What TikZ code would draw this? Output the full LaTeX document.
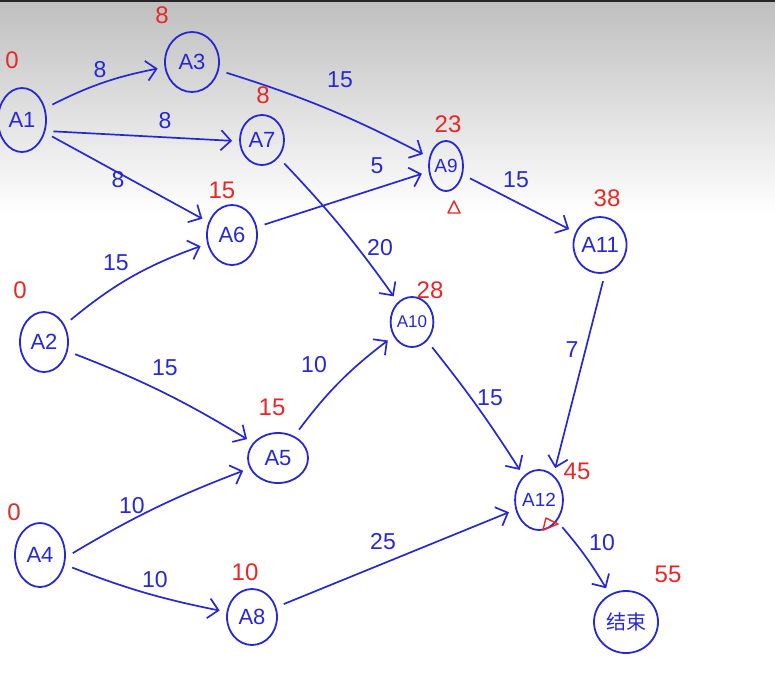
\documentclass[tikz,border=0pt]{standalone}
\usepackage{fontspec}
\setmainfont{Liberation Sans}
\newfontfamily\cjk{Noto Sans CJK SC}
\usetikzlibrary{shapes.geometric,arrows.meta}
\definecolor{myblue}{RGB}{40,40,210}
\definecolor{myred}{RGB}{230,40,40}
\begin{document}
\begin{tikzpicture}[x=1pt,y=-1pt,
  nd/.style={ellipse, draw=myblue, line width=1.8pt, inner sep=0pt, text=myblue, font=\fontsize{22}{22}\selectfont},
  edge/.style={draw=myblue, line width=1.7pt, -{Straight Barb[length=10pt,width=20pt,line width=1.7pt]}, shorten >=7pt, shorten <=8pt},
  lbl/.style={text=myblue, font=\fontsize{23}{23}\selectfont},
  rl/.style={text=myred, font=\fontsize{24}{24}\selectfont}]
\useasboundingbox (0,0) rectangle (775,689);
\fill[white] (0,0) rectangle (775,689);
\shade[top color=black!25, bottom color=white] (0,2) rectangle (775,215);
\fill[black!85] (0,0) rectangle (775,2);

% nodes
\node[nd, minimum width=48pt, minimum height=64pt] (A1) at (22,120) {A1};
\node[nd, minimum width=54pt, minimum height=60pt] (A3) at (192,62) {A3};
\node[nd, minimum width=44pt, minimum height=50pt] (A7) at (262,140) {A7};
\node[nd, minimum width=50pt, minimum height=60pt] (A6) at (232,235) {A6};
\node[nd, minimum width=34pt, minimum height=50pt, font=\fontsize{19}{19}\selectfont] (A9) at (446,166) {A9};
\node[nd, minimum width=50pt, minimum height=56pt] (A11) at (600,245) {A11};
\node[nd, minimum width=48pt, minimum height=60pt] (A2) at (44,342) {A2};
\node[nd, minimum width=40pt, minimum height=50pt, font=\fontsize{17}{17}\selectfont] (A10) at (412,322) {A10};
\node[nd, minimum width=60pt, minimum height=50pt] (A5) at (278,458) {A5};
\node[nd, minimum width=50pt, minimum height=64pt] (A4) at (40,555) {A4};
\node[nd, minimum width=50pt, minimum height=56pt] (A8) at (252,617) {A8};
\node[nd, minimum width=46pt, minimum height=60pt, font=\fontsize{19}{19}\selectfont] (A12) at (539,500) {A12};
\node[nd, minimum width=64pt, minimum height=62pt, font=\cjk\fontsize{20}{20}\selectfont] (end) at (626,622) {结束};

% edges
\draw[edge] (A1) to[bend left=8] (A3);
\draw[edge] (A1.-25) -- (A7.183);
\draw[edge] (A1) -- (A6);
\draw[edge] (A3) to[bend left=5] (A9);
\draw[edge] (A7) to[bend left=4] (A10);
\draw[edge] (A6) -- (A9);
\draw[edge] (A9) -- (A11);
\draw[edge] (A2) to[bend left=10] (A6);
\draw[edge] (A2) to[bend left=5] (A5);
\draw[edge] (A5) to[bend left=8] (A10);
\draw[edge] (A10) to[bend left=3] (A12);
\draw[edge] (A11.-80) -- (A12.60);
\draw[edge] (A4.-5) to[bend left=5] (A5.200);
\draw[edge] (A4) to[bend right=5] (A8);
\draw[edge] (A8) -- (A12);
\draw[edge] (A12) to[bend left=5] (end);

% edge labels
\node[lbl] (l13) at (100,70) {8};
\node[lbl] (l17) at (165,121) {8};
\node[lbl] (l16) at (118,180) {8};
\node[lbl] (l39) at (340,80) {15};
\node[lbl] (l710) at (380,248) {20};
\node[lbl] (l69) at (377,166) {5};
\node[lbl] (l911) at (516,180) {15};
\node[lbl] (l26) at (116,263) {15};
\node[lbl] (l25) at (165,368) {15};
\node[lbl] (l510) at (314,365) {10};
\node[lbl] (l1012) at (490,398) {15};
\node[lbl] (l1112) at (572,350) {7};
\node[lbl] (l45) at (132,506) {10};
\node[lbl] (l48) at (155,580) {10};
\node[lbl] (l812) at (383,542) {25};
\node[lbl] (l12e) at (602,543) {10};

% red times
\node[rl] (t1) at (12,60) {0};
\node[rl] (t3) at (162,15) {8};
\node[rl] (t7) at (263,95) {8};
\node[rl] (t6) at (222,190) {15};
\node[rl] (t9) at (448,124) {23};
\node[rl] (t11) at (607,198) {38};
\node[rl] (t2) at (20,290) {0};
\node[rl] (t10) at (430,290) {28};
\node[rl] (t5) at (272,407) {15};
\node[rl] (t4) at (14,512) {0};
\node[rl] (t8) at (245,572) {10};
\node[rl] (t12) at (577,471) {45};
\node[rl] (te) at (668,574) {55};

% red triangles
\draw[myred, line width=1.4pt, line join=round] (448,213) -- (454,201) -- (460,213) -- cycle;
\draw[myred, line width=1.4pt, line join=round] (546,518) -- (558,524) -- (543,530) -- cycle;
\end{tikzpicture}
\end{document}
